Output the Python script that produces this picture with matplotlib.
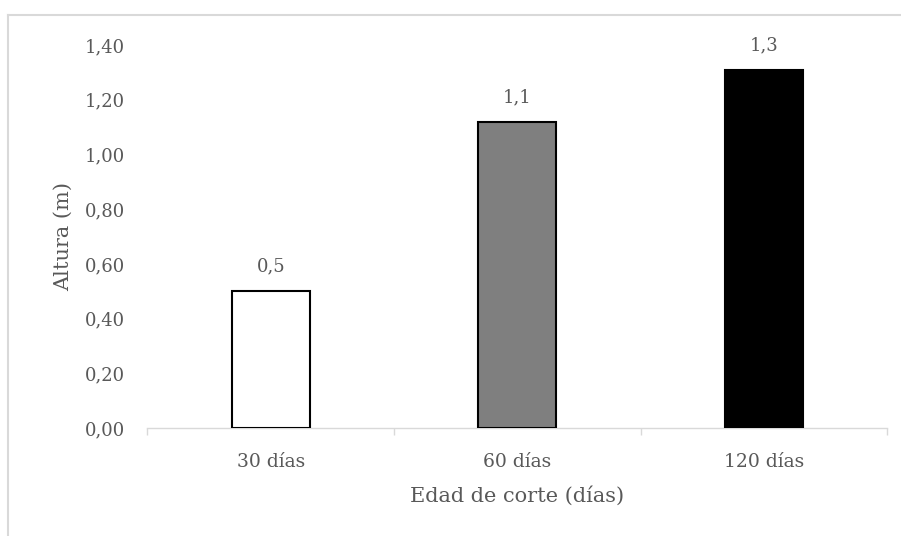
import matplotlib
matplotlib.use("Agg")
import matplotlib.pyplot as plt
from matplotlib.lines import Line2D

categories = ["30 días", "60 días", "120 días"]
heights = [0.50, 1.12, 1.31]
bar_colors = ["#ffffff", "#7f7f7f", "#000000"]
yticks = [0.0, 0.2, 0.4, 0.6, 0.8, 1.0, 1.2, 1.4]

plt.rcParams["font.family"] = ["DejaVu Serif"]
text_color = "#595959"

fig = plt.figure(figsize=(9.01, 5.36), dpi=100)
ax = fig.add_axes([0.1637, 0.2015, 0.8208, 0.7145])

x = list(range(len(categories)))
bars = ax.bar(x, heights, width=0.316, color=bar_colors,
              edgecolor="black", linewidth=1.5, zorder=3)

for xi, h in zip(x, heights):
    ax.text(xi, h + 0.09, f"{h:.1f}".replace(".", ","), ha="center",
            va="center", fontsize=13, color=text_color)

ax.set_xlim(-0.5, len(categories) - 0.5)
ax.set_ylim(0, 1.4)
ax.set_yticks(yticks)
ax.set_yticklabels([f"{v:.2f}".replace(".", ",") for v in yticks])
ax.set_xticks(x)
ax.set_xticklabels(categories)
ax.set_xticks([-0.5, 0.5, 1.5, 2.5], minor=True)

ax.tick_params(axis="y", length=0, pad=16, labelsize=13, labelcolor=text_color)
ax.tick_params(axis="x", which="major", length=0, pad=18, labelsize=13.5,
               labelcolor=text_color)
ax.tick_params(axis="x", which="minor", length=5, width=1, color="#d9d9d9")

for s in ["top", "right", "left"]:
    ax.spines[s].set_visible(False)
ax.spines["bottom"].set_color("#d9d9d9")
ax.spines["bottom"].set_linewidth(1)

ax.set_ylabel("Altura (m)", fontsize=15, color=text_color, labelpad=9)
ax.set_xlabel("Edad de corte (días)", fontsize=15, color=text_color, labelpad=11)

# chart frame
fig.add_artist(Line2D([8 / 901, 8 / 901], [0, 1 - 15 / 536], color="#d9d9d9",
                      lw=1.5, transform=fig.transFigure))
fig.add_artist(Line2D([8 / 901, 1], [1 - 15 / 536, 1 - 15 / 536], color="#d9d9d9",
                      lw=1.5, transform=fig.transFigure))

fig.savefig("out.png", dpi=100)
